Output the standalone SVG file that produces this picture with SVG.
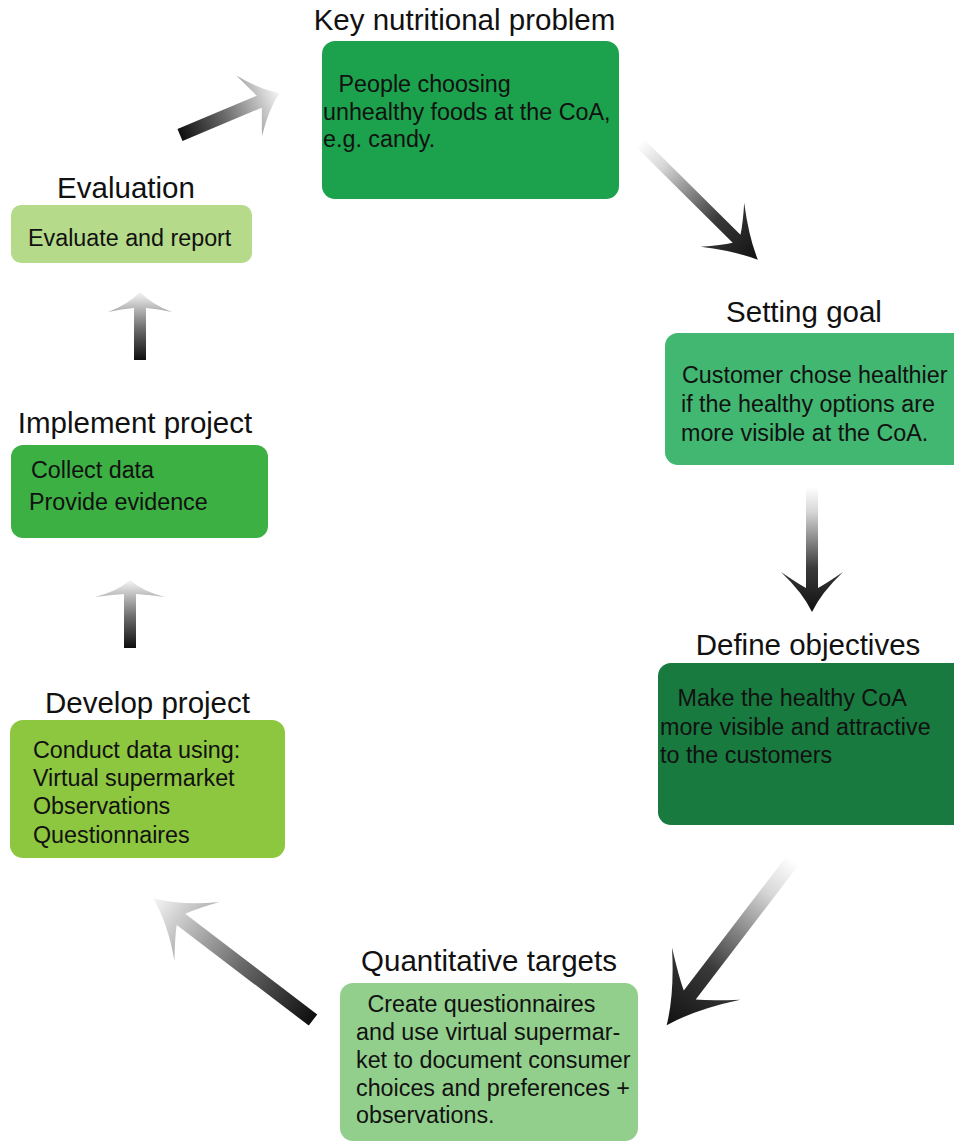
<svg xmlns="http://www.w3.org/2000/svg" width="954" height="1143" viewBox="0 0 954 1143">
  <defs>
    <!-- shaded arrows: light tail fading to a dark head, and the reverse -->
    <linearGradient id="fadeIn" x1="0" y1="0" x2="1" y2="0">
      <stop offset="0" stop-color="#ffffff"/>
      <stop offset="0.2" stop-color="#d6d6d6"/>
      <stop offset="0.65" stop-color="#3a3a3a"/>
      <stop offset="1" stop-color="#111111"/>
    </linearGradient>
    <linearGradient id="fadeOut" x1="0" y1="0" x2="1" y2="0">
      <stop offset="0" stop-color="#0e0e0e"/>
      <stop offset="0.45" stop-color="#6a6a6a"/>
      <stop offset="1" stop-color="#f6f6f6"/>
    </linearGradient>
    <style>
      .title { font-family: "Liberation Sans", Arial, sans-serif; font-size: 29.5px; fill: #111; text-anchor: middle; }
      .body  { font-family: "Liberation Sans", Arial, sans-serif; font-size: 23.3px; fill: #111; }
      .box   { stroke: none; }
    </style>
  </defs>

  <rect width="954" height="1143" fill="#ffffff"/>

  <!-- connectors -->
  <g id="connectors">
    <!-- Evaluation -> Key nutritional problem -->
    <path transform="translate(180,135) rotate(-22.8)" fill="url(#fadeOut)"
          d="M0,-6.5 L86,-6.5 Q82,-16 75,-33 Q92,-10 108,0 Q92,10 75,33 Q82,16 86,6.5 L0,6.5 Z"/>
    <!-- Key nutritional problem -> Setting goal -->
    <path transform="translate(640,143) rotate(44.75)" fill="url(#fadeIn)"
          d="M0,-5.5 L136,-5.5 Q130,-15 116,-31 Q143,-10 166,0 Q143,10 116,31 Q130,15 136,5.5 L0,5.5 Z"/>
    <!-- Setting goal -> Define objectives -->
    <path transform="translate(812,487) rotate(90)" fill="url(#fadeIn)"
          d="M0,-6 L101,-6 Q96,-15 85,-31 Q106,-9 125,0 Q106,9 85,31 Q96,15 101,6 L0,6 Z"/>
    <!-- Define objectives -> Quantitative targets -->
    <path transform="translate(793,860) rotate(127.4)" fill="url(#fadeIn)"
          d="M0,-7.5 L170,-7.5 Q162,-20 143,-43 Q178,-13 208,0 Q178,13 143,43 Q162,20 170,7.5 L0,7.5 Z"/>
    <!-- Quantitative targets -> Develop project -->
    <path transform="translate(313,1020) rotate(-142.7)" fill="url(#fadeOut)"
          d="M0,-7 L166,-7 Q160,-18 146,-37 Q174,-11 201,0 Q174,11 146,37 Q160,18 166,7 L0,7 Z"/>
    <!-- Develop project -> Implement project -->
    <path transform="translate(130,648) rotate(-90)" fill="url(#fadeOut)"
          d="M0,-6 L54,-6 Q53,-20 51,-35 Q57,-12 68,0 Q57,12 51,35 Q53,20 54,6 L0,6 Z"/>
    <!-- Implement project -> Evaluation -->
    <path transform="translate(140,360) rotate(-90)" fill="url(#fadeOut)"
          d="M0,-6 L52,-6 Q51,-18 48,-32 Q56,-11 68,0 Q56,11 48,32 Q51,18 52,6 L0,6 Z"/>
  </g>

  <g id="key-problem">
    <text class="title" x="464.5" y="30">Key nutritional problem</text>
    <rect class="box" x="322" y="41" width="297" height="158" rx="13" fill="#1ca14d"/>
    <text class="body" x="332" y="92" xml:space="preserve"> People choosing</text>
    <text class="body" x="323" y="120">unhealthy foods at the CoA,</text>
    <text class="body" x="323" y="147">e.g. candy.</text>
  </g>

  <g id="setting-goal">
    <text class="title" x="804" y="322">Setting goal</text>
    <rect class="box" x="665" y="333" width="310" height="132" rx="13" fill="#41b771"/>
    <text class="body" x="682" y="383">Customer chose healthier</text>
    <text class="body" x="681" y="412">if the healthy options are</text>
    <text class="body" x="681" y="441">more visible at the CoA.</text>
  </g>

  <g id="define-objectives">
    <text class="title" x="808" y="655">Define objectives</text>
    <rect class="box" x="658" y="663" width="320" height="162" rx="13" fill="#187a3e"/>
    <text class="body" x="671" y="706" xml:space="preserve"> Make the healthy CoA</text>
    <text class="body" x="660" y="735">more visible and attractive</text>
    <text class="body" x="660" y="763">to the customers</text>
  </g>

  <g id="quantitative-targets">
    <text class="title" x="489" y="971">Quantitative targets</text>
    <rect class="box" x="340" y="983" width="298" height="158" rx="13" fill="#93cf8c"/>
    <text class="body" x="361" y="1012" xml:space="preserve"> Create questionnaires</text>
    <text class="body" x="356" y="1040">and use virtual supermar-</text>
    <text class="body" x="356" y="1068">ket to document consumer</text>
    <text class="body" x="356" y="1096">choices and preferences +</text>
    <text class="body" x="356" y="1123">observations.</text>
  </g>

  <g id="develop-project">
    <text class="title" x="147.5" y="713">Develop project</text>
    <rect class="box" x="10" y="720" width="275" height="138" rx="13" fill="#8dc63f"/>
    <text class="body" x="33" y="758">Conduct data using:</text>
    <text class="body" x="33" y="786">Virtual supermarket</text>
    <text class="body" x="33" y="814">Observations</text>
    <text class="body" x="33" y="843">Questionnaires</text>
  </g>

  <g id="implement-project">
    <text class="title" x="135" y="433">Implement project</text>
    <rect class="box" x="11" y="445" width="257" height="93" rx="12" fill="#3cb043"/>
    <text class="body" x="31" y="478">Collect data</text>
    <text class="body" x="29" y="510">Provide evidence</text>
  </g>

  <g id="evaluation">
    <text class="title" x="126" y="198">Evaluation</text>
    <rect class="box" x="11" y="205" width="241" height="58" rx="10" fill="#b5da8a"/>
    <text class="body" x="28" y="246">Evaluate and report</text>
  </g>
</svg>
